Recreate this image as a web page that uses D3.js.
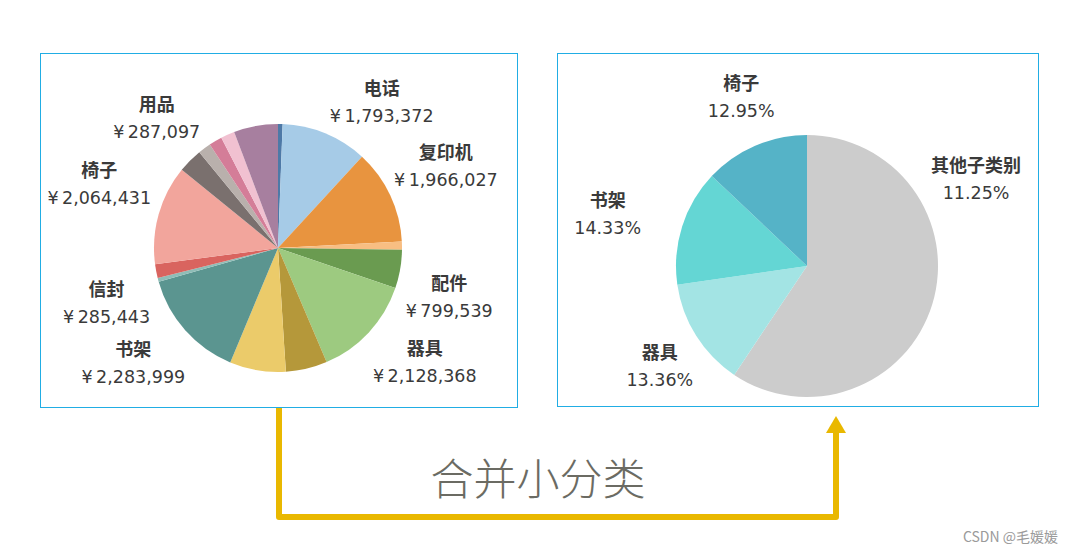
<!DOCTYPE html>
<html>
<head>
<meta charset="utf-8">
<script src="https://cdn.jsdelivr.net/npm/d3@7"></script>
<style>
  body { margin: 0; background: #fff; }
  .lbl { font-family: "DejaVu Sans", "Noto Sans CJK SC", sans-serif; fill: #3a3a3a; }
  .name { font-family: "Noto Sans CJK SC", sans-serif; font-weight: 600; font-size: 18px; }
  .val { font-size: 17.5px; }
</style>
</head>
<body>
<div id="chart"></div>
<script>
// left pie: sub categories, clockwise from 12 o'clock (null = no label shown)
var subNames = [null, "电话", "复印机", null, "配件", "器具", null, null, "书架", null, "信封", "椅子", null, null, null, "用品", null];
var subSales = [95000, 1793372, 1966027, 167000, 799539, 2128368, 861000, 1164000, 2283999, 80000, 285443, 2064431, 510000, 266000, 274000, 287097, 917000];
var subColors = ["#4e79a7", "#a6cbe7", "#e8943f", "#f8be82", "#6a9b50", "#9dca80", "#b5983a", "#ebcb6a",
                 "#5b9590", "#8fbdb7", "#d9645f", "#f2a59c", "#7a706e", "#b9b0ac", "#d47d98", "#f1c1d1", "#a77f9f"];

// right pie: merged
var keepNames = ["器具", "书架", "椅子"];
var mergedNames = ["其他子类别", "器具", "书架", "椅子"];
var mergedLabels = ["11.25%", "13.36%", "14.33%", "12.95%"];   // as printed in the picture
var mergedColors = ["#cccccc", "#a3e4e4", "#64d6d4", "#55b3c7"];

var width = 1074, height = 554;
var boxColor = "#21ade4";

var svg = d3.select("#chart").append("svg")
    .attr("width", width)
    .attr("height", height);

// panels
svg.append("rect").attr("x", 40.5).attr("y", 53.5).attr("width", 477).attr("height", 354)
    .attr("fill", "none").attr("stroke", boxColor);
svg.append("rect").attr("x", 557.5).attr("y", 53.5).attr("width", 481).attr("height", 353)
    .attr("fill", "none").attr("stroke", boxColor);

var pie = d3.pie().sort(null).value(function(d) { return d.value; });
var deg = Math.PI / 180;

// label nudges [angle deg, extra radius]
var leftNudge = { "电话": [13, -4], "复印机": [-1, 4], "配件": [6, -5], "器具": [-5, 3],
                  "书架": [3, 2], "信封": [-7, -3], "椅子": [4, 7], "用品": [-19, -5] };
var rightNudge = { "其他子类别": [-44, 6], "器具": [-2, -6], "书架": [-3, 22], "椅子": [2, -3] };

function drawPie(data, cx, cy, r, labelR, nudge, fmt) {
    var g = svg.append("g").attr("transform", "translate(" + cx + "," + cy + ")");
    var arcs = pie(data);
    var arc = d3.arc().innerRadius(0).outerRadius(r);

    g.selectAll("path")
        .data(arcs)
        .enter().append("path")
        .attr("d", arc)
        .attr("fill", function(d) { return d.data.color; });

    var labels = g.selectAll(".lbl")
        .data(arcs.filter(function(d) { return d.data.name; }))
        .enter().append("g")
        .attr("class", "lbl")
        .attr("transform", function(d) {
            var n = nudge[d.data.name] || [0, 0];
            var a = (d.startAngle + d.endAngle) / 2 + n[0] * deg;
            var rr = labelR + n[1];
            return "translate(" + (Math.sin(a) * rr) + "," + (-Math.cos(a) * rr) + ")";
        });
    labels.append("text")
        .attr("class", "name")
        .attr("text-anchor", "middle")
        .attr("y", -7)
        .text(function(d) { return d.data.name; });
    labels.append("text")
        .attr("class", "val")
        .attr("text-anchor", "middle")
        .attr("y", 20)
        .text(function(d) { return fmt(d); });
}

var leftData = subSales.map(function(v, i) {
    return { name: subNames[i], value: v, color: subColors[i] };
});
var total = d3.sum(subSales);
var kept = keepNames.map(function(n) { return subSales[subNames.indexOf(n)]; });
var mergedValues = [total - d3.sum(kept)].concat(kept);
var rightData = mergedValues.map(function(v, i) {
    return { name: mergedNames[i], value: v, color: mergedColors[i], label: mergedLabels[i] };
});

drawPie(leftData, 278, 248, 124, 183, leftNudge, function(d) {
    return "¥\u2009" + d3.format(",")(d.data.value);
});
drawPie(rightData, 807, 266, 131, 184, rightNudge, function(d) { return d.data.label; });

// arrow
var arrowColor = "#e9b800";
svg.append("path")
    .attr("d", d3.line()([[279, 408], [279, 517], [836, 517], [836, 430]]))
    .attr("fill", "none")
    .attr("stroke", arrowColor)
    .attr("stroke-width", 6)
    .attr("stroke-linejoin", "round");
svg.append("path")
    .attr("d", d3.line()([[826, 433], [836, 416], [846, 433]]) + "Z")
    .attr("fill", arrowColor);

svg.append("text")
    .attr("x", 538).attr("y", 495)
    .attr("text-anchor", "middle")
    .style("font-family", "'Noto Sans CJK SC', sans-serif")
    .style("font-weight", 300)
    .style("font-size", "43px")
    .style("fill", "#6b6b63")
    .text("合并小分类");

svg.append("text")
    .attr("x", 1058).attr("y", 542)
    .attr("text-anchor", "end")
    .style("font-family", "'Noto Sans CJK SC', sans-serif")
    .style("font-size", "14px")
    .style("fill", "#9a9a9a")
    .text("CSDN @毛媛媛");
</script>
</body>
</html>
